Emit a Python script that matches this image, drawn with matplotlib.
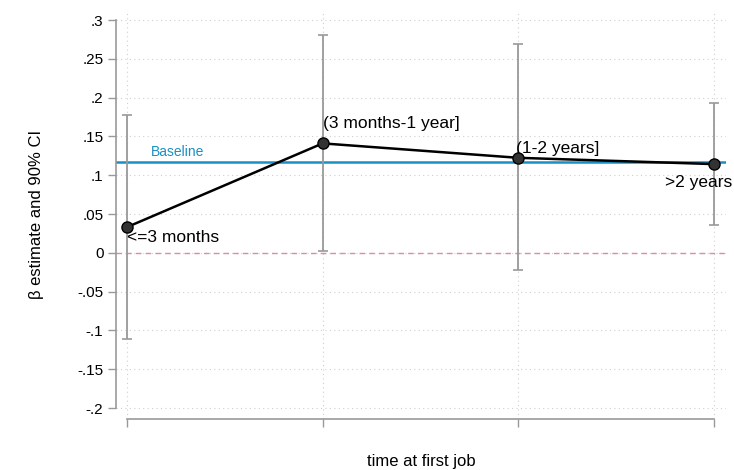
import numpy as np
import matplotlib.pyplot as plt

plt.rcParams['font.family'] = ['Liberation Sans', 'DejaVu Sans']

# Coefficients by time at first job
labels = ['<=3 months', '(3 months-1 year]', '(1-2 years]', '>2 years']
pos = [1, 2, 3, 4]
beta = [0.0331, 0.141, 0.1224, 0.1143]
ci_lo = [-0.111, 0.0017, -0.0228, 0.0352]
ci_hi = [0.1775, 0.281, 0.269, 0.1924]
baseline = 0.117

yticks = [-0.2, -0.15, -0.1, -0.05, 0, 0.05, 0.1, 0.15, 0.2, 0.25, 0.3]
ytick_labels = ['-.2', '-.15', '-.1', '-.05', '0', '.05', '.1', '.15', '.2', '.25', '.3']

fig = plt.figure(figsize=(7.34, 4.70), dpi=100)
ax = fig.add_axes([116/734, 1 - 419/470, (726 - 116)/734, (419 - 10)/470])

grey = '#999999'
# grid
for yv in yticks:
    ax.axhline(yv, color='#d0d0d0', lw=0.8, ls=(0, (1, 3)), zorder=0)
for xv in pos:
    ax.axvline(xv, color='#d0d0d0', lw=0.8, ls=(0, (1, 3)), zorder=0)

ax.axhline(0, color='#d98cb3', lw=1, ls=(0, (4, 3)), zorder=1)
ax.axhline(baseline, color='#1a8fc4', lw=1.8, zorder=2)
ax.text(1.12, baseline + 0.004, 'Baseline', color='#1a8fc4', fontsize=10, va='bottom')

yerr = [np.array(beta) - np.array(ci_lo), np.array(ci_hi) - np.array(beta)]
ax.errorbar(pos, beta, yerr=yerr, fmt='none', ecolor=grey, elinewidth=1.3,
            capsize=3.5, capthick=1.2, zorder=3)
ax.plot(pos, beta, color='black', lw=1.8, zorder=4)
ax.plot(pos, beta, 'o', ms=8, mfc='#333333', mec='black', mew=1, zorder=5)

# point labels
fs = 12.5
ax.text(pos[0], beta[0] - 0.004, labels[0], fontsize=fs, ha='left', va='top')
ax.text(pos[1], beta[1] + 0.016, labels[1], fontsize=fs, ha='left', va='bottom')
ax.text(pos[2] - 0.01, beta[2] + 0.002, labels[2], fontsize=fs, ha='left', va='bottom')
ax.text(pos[3] - 0.25, beta[3] - 0.014, labels[3], fontsize=fs, ha='left', va='top')

ax.set_xlim(1 - 11/195.7, 4 + 12/195.7)
ax.set_ylim(-0.2 - 11/776, 0.3 + 10/776)

ax.set_xticks(pos)
ax.set_xticklabels([])
ax.set_yticks(yticks)
ax.set_yticklabels(ytick_labels, fontsize=11)
ax.tick_params(axis='both', color=grey, length=6, width=1)
ax.tick_params(axis='y', pad=3)

for s in ['top', 'right']:
    ax.spines[s].set_visible(False)
ax.spines['left'].set_bounds(-0.2, 0.3)
ax.spines['bottom'].set_bounds(1, 4)
ax.spines['left'].set_color(grey)
ax.spines['bottom'].set_color(grey)
ax.spines['left'].set_linewidth(1.2)
ax.spines['bottom'].set_linewidth(1.2)

ax.set_xlabel('time at first job', fontsize=12, labelpad=16)
ax.set_ylabel('β estimate and 90% CI', fontsize=12, labelpad=24)

fig.savefig('out.png', dpi=100)
